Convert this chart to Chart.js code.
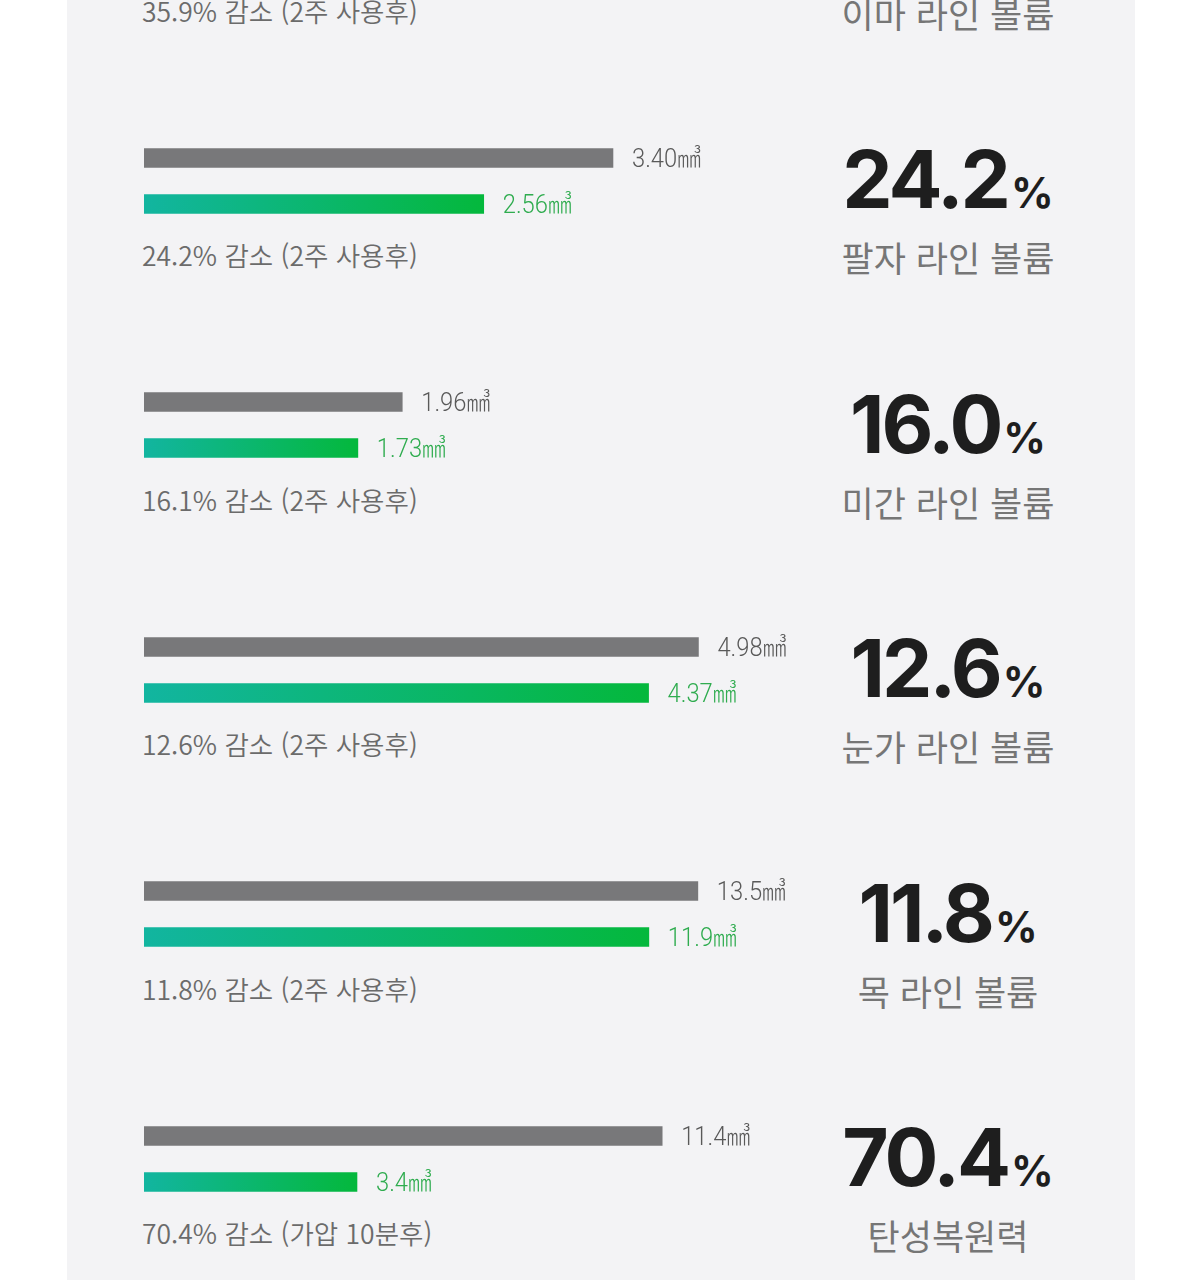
<!DOCTYPE html>
<html lang="ko">
<head>
<meta charset="utf-8">
<title>라인 볼륨 감소</title>
<script src="https://cdn.jsdelivr.net/npm/chart.js@4.4.1/dist/chart.umd.min.js"></script>
<style>
  html, body { margin: 0; padding: 0; background: #fff; }
  body { width: 1200px; height: 1280px; position: relative; overflow: hidden; font-family: "Noto Sans CJK KR", sans-serif; }
  .panel { position: absolute; left: 67px; top: 0; width: 1068px; height: 1280px; background: #f3f3f5; }
  .row { position: absolute; left: 0; width: 1200px; height: 245px; }
  .bars { position: absolute; left: 144px; top: -13.5px; }
  .caption { position: absolute; left: 142px; top: 94px; font-size: 26.5px; line-height: 26.5px; font-weight: 350; color: #6b6b6b; white-space: nowrap; }
  .pct { position: absolute; left: 748px; width: 400px; text-align: center; top: -9px; font-family: Inter, "Noto Sans", sans-serif; font-weight: 700; font-size: 80px; line-height: 80px; color: #1e1e1e; letter-spacing: -3px; white-space: nowrap; }
  .pct span { font-size: 42px; letter-spacing: 0; margin-left: 3px; }
  .label { position: absolute; left: 748px; width: 400px; text-align: center; top: 91px; font-size: 35px; line-height: 35px; color: #767676; font-weight: 400; white-space: nowrap; }
</style>
</head>
<body>
<div class="panel"></div>
<div id="rows"></div>
<script>
// 항목별 데이터 (첫 항목은 화면 위로 잘려서 막대 값은 보이지 않음)
const categories = ['이마 라인 볼륨', '팔자 라인 볼륨', '미간 라인 볼륨', '눈가 라인 볼륨', '목 라인 볼륨', '탄성복원력'];
const reductionPct = ['35.9', '24.2', '16.0', '12.6', '11.8', '70.4'];
const captions = [
  '35.9% 감소 (2주 사용후)',
  '24.2% 감소 (2주 사용후)',
  '16.1% 감소 (2주 사용후)',
  '12.6% 감소 (2주 사용후)',
  '11.8% 감소 (2주 사용후)',
  '70.4% 감소 (가압 10분후)'
];
const beforeValues = [null, 3.40, 1.96, 4.98, 13.5, 11.4];
const afterValues = [null, 2.56, 1.73, 4.37, 11.9, 3.4];
const beforeLabels = ['', '3.40', '1.96', '4.98', '13.5', '11.4'];
const afterLabels = ['', '2.56', '1.73', '4.37', '11.9', '3.4'];
const unit = '㎣';

// 원본 인포그래픽은 항목마다 막대 축척이 다름 -> 축 최대값을 따로 둠
const beforeScaleMax = [null, 4.06, 4.25, 5.03, 13.65, 12.32];
const afterScaleMax = [null, 4.22, 4.53, 4.85, 13.2, 8.94];

// 막대 끝에 값 라벨 그리기
const valueLabels = {
  id: 'valueLabels',
  afterDatasetsDraw(chart, args, opts) {
    const ctx = chart.ctx;
    chart.data.datasets.forEach((ds, d) => {
      const meta = chart.getDatasetMeta(d);
      meta.data.forEach((bar, j) => {
        if (ds.data[j] == null) return;
        ctx.save();
        ctx.translate(bar.x + 19, bar.y + 9);
        ctx.scale(0.95, 1);
        ctx.font = '300 25px Roboto, "Noto Sans CJK KR"';
        ctx.fillStyle = opts.colors[d];
        ctx.textBaseline = 'alphabetic';
        ctx.fillText(opts.texts[d] + unit, 0, 0);
        ctx.restore();
      });
    });
  }
};

const rowsEl = document.getElementById('rows');

categories.forEach((name, i) => {
  const row = document.createElement('div');
  row.className = 'row';
  row.style.top = (-96.5 + i * 244.5) + 'px';
  row.innerHTML =
    '<div class="caption">' + captions[i] + '</div>' +
    '<div class="pct">' + reductionPct[i] + '<span>%</span></div>' +
    '<div class="label">' + name + '</div>';
  rowsEl.appendChild(row);

  if (beforeValues[i] == null) return;

  const wrap = document.createElement('div');
  wrap.className = 'bars';
  const canvas = document.createElement('canvas');
  canvas.width = 700;
  canvas.height = 92;
  wrap.appendChild(canvas);
  row.appendChild(wrap);

  new Chart(canvas.getContext('2d'), {
    type: 'bar',
    data: {
      labels: ['사용전', '사용후'],
      datasets: [
        {
          data: [beforeValues[i], null],
          xAxisID: 'x',
          grouped: false,
          barThickness: 19,
          backgroundColor: '#78787a',
          borderWidth: 0
        },
        {
          data: [null, afterValues[i]],
          xAxisID: 'x2',
          grouped: false,
          barThickness: 19,
          borderWidth: 0,
          backgroundColor(c) {
            const chart = c.chart;
            const area = chart.chartArea;
            if (!area) return '#06b64a';
            const end = chart.scales.x2.getPixelForValue(afterValues[i]);
            const g = chart.ctx.createLinearGradient(area.left, 0, end, 0);
            g.addColorStop(0, '#12b5a0');
            g.addColorStop(1, '#04b83c');
            return g;
          }
        }
      ]
    },
    options: {
      indexAxis: 'y',
      responsive: false,
      animation: false,
      devicePixelRatio: 1,
      layout: { padding: { left: 0, right: 140, top: 0, bottom: 0 } },
      plugins: {
        legend: { display: false },
        tooltip: { enabled: false },
        valueLabels: {
          texts: [beforeLabels[i], afterLabels[i]],
          colors: ['#595959', '#2fac4f']
        }
      },
      scales: {
        y: { display: false, offset: true, grid: { display: false } },
        x: { type: 'linear', display: false, min: 0, max: beforeScaleMax[i] },
        x2: { type: 'linear', axis: 'x', position: 'bottom', display: false, min: 0, max: afterScaleMax[i] }
      }
    },
    plugins: [valueLabels]
  });
});
</script>
</body>
</html>
